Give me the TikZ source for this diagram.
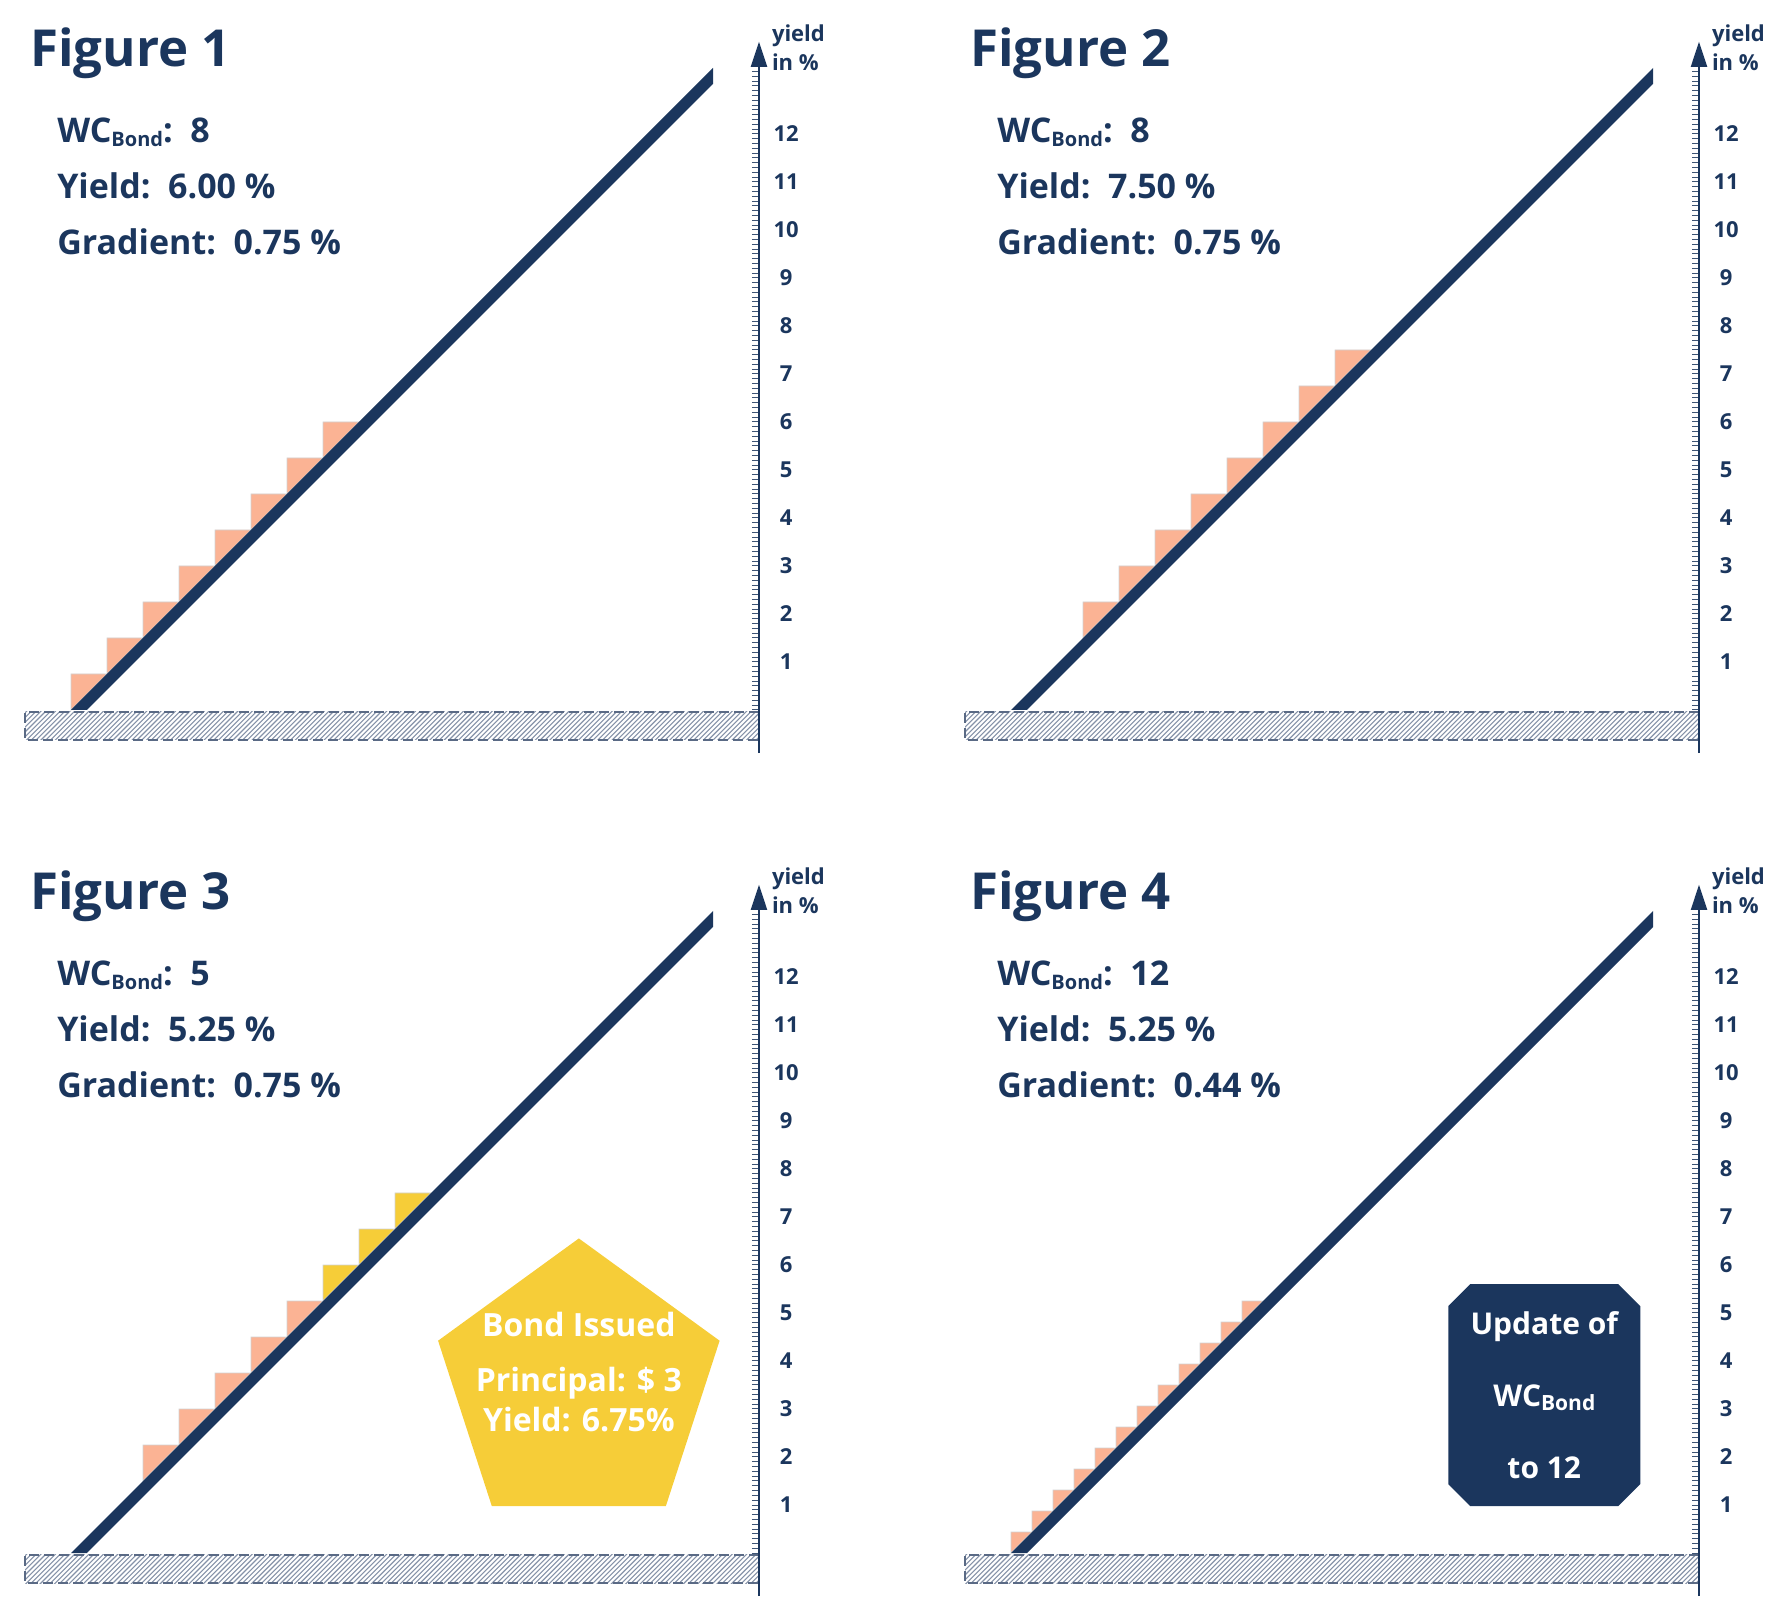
\documentclass[tikz,border=0pt]{standalone}
\usepackage{fontspec}
\setmainfont{Open Sans}
\usepackage{tikz,xcolor}
\usetikzlibrary{arrows.meta,positioning,shapes.geometric,shapes.misc}

\definecolor{navy}{HTML}{1B365D}
\definecolor{salmon}{HTML}{FBB394}
\definecolor{bondyellow}{HTML}{F6CD38}
\definecolor{groundline}{HTML}{5A6A85}
\definecolor{hatchgray}{HTML}{8592A8}

\newcommand{\wcsub}[1]{WC\raisebox{-4pt}{\fontsize{#1}{#1}\selectfont Bond}}

\tikzset{
    stepred/.style={fill=salmon, draw=black!18, line width=0.8pt},
    stepyellow/.style={fill=bondyellow, draw=black!18, line width=0.8pt},
    hatchline/.style={draw=hatchgray, line width=1.1pt},
    grounddash/.style={draw=groundline, line width=1.8pt, dash pattern=on 10pt off 5pt},
    tick/.style={draw=navy!85, line width=1pt},
    axisline/.style={draw=navy, line width=2pt, -{Triangle[width=16pt,length=25pt]}},
    titletext/.style={font=\fontsize{51}{51}\selectfont\bfseries, text=navy, inner sep=0pt, anchor=base west},
    infotext/.style={font=\fontsize{34}{34}\selectfont\bfseries, text=navy, inner sep=0pt, anchor=base west},
    ticklabel/.style={font=\fontsize{22}{22}\selectfont\bfseries, text=navy, inner sep=0pt},
    unitlabel/.style={font=\fontsize{22}{22}\selectfont\bfseries, text=navy, inner sep=0pt, anchor=base west}
}

\begin{document}
\begin{tikzpicture}[x=1pt, y=1pt,
    bondpenta/.style={regular polygon, regular polygon sides=5, minimum size=296pt, inner sep=0pt, fill=bondyellow},
    bondtext/.style={font=\fontsize{32}{40}\selectfont\bfseries, text=white, align=center, inner sep=0pt},
    updatebox/.style={chamfered rectangle, chamfered rectangle xsep=11pt, chamfered rectangle ysep=11pt,
        minimum width=192pt, minimum height=222pt, inner sep=0pt, fill=navy, text=white,
        font=\fontsize{30}{72}\selectfont\bfseries, align=center}]

    \useasboundingbox (0,0) rectangle (1787,1604);

    % steps
    \begin{scope}[shift={(71pt,894pt)}, x=48pt, y=48pt]
        \foreach \s in {0,...,7}
            \draw[stepred] (0.75*\s,0.75*\s) -- ++(0,0.75) -- ++(0.75,0) -- cycle;
    \end{scope}
    \begin{scope}[shift={(1011pt,894pt)}, x=48pt, y=48pt]
        \foreach \s in {0,...,7}
            \draw[stepred] (1.5+0.75*\s,1.5+0.75*\s) -- ++(0,0.75) -- ++(0.75,0) -- cycle;
    \end{scope}
    \begin{scope}[shift={(71pt,51pt)}, x=48pt, y=48pt]
        \foreach \s in {0,...,4}
            \draw[stepred] (1.5+0.75*\s,1.5+0.75*\s) -- ++(0,0.75) -- ++(0.75,0) -- cycle;
        \foreach \s in {0,1,2}
            \draw[stepyellow] (5.25+0.75*\s,5.25+0.75*\s) -- ++(0,0.75) -- ++(0.75,0) -- cycle;
    \end{scope}
    \begin{scope}[shift={(1011pt,51pt)}, x=48pt, y=48pt]
        \foreach \s in {0,...,11}
            \draw[stepred] (0.4375*\s,0.4375*\s) -- ++(0,0.4375) -- ++(0.4375,0) -- cycle;
    \end{scope}

    % panels
    \foreach \px/\py/\n/\wc/\yld/\grad in {71/894/1/8/6.00/0.75, 1011/894/2/8/7.50/0.75, 71/51/3/5/5.25/0.75, 1011/51/4/12/5.25/0.44}{
        \begin{scope}[shift={(\px pt,\py pt)}, x=48pt, y=48pt]
            \begin{scope}
                \clip (-0.958,-0.625) rectangle (14.333,-0.04);
                \foreach \k in {0,...,165}
                    \draw[hatchline] (-1.6+0.1*\k,-0.7) -- ++(0.8,0.8);
            \end{scope}
            \draw[grounddash] (14.333,-0.04) -- (-0.958,-0.04) -- (-0.958,-0.625) -- (14.333,-0.625);

            \foreach \t in {0,...,134}
                \draw[tick] (14.187,0.1*\t) -- (14.333,0.1*\t);
            \coordinate (axb\n) at (14.333,-0.9);
            \coordinate (axt\n) at (14.333,13.92);
            \draw[axisline] (axb\n) -- (axt\n);
            \foreach \v in {1,...,12}
                \node[ticklabel] (lab\n-\v) at (14.9,\v) {\v};
            \node[unitlabel] (unit\n-a) at (14.6,13.92) {yield};
            \node[unitlabel] (unit\n-b) at (14.6,13.33) {in \%};

            \node[titletext] (title\n) at (-0.85,13.4) {Figure \n};
            \node[infotext] (wc\n) at (-0.29,11.83) {\wcsub{20}:\ \ \wc};
            \node[infotext] (yld\n) at (-0.29,10.66) {Yield:\ \ \yld\ \%};
            \node[infotext] (grad\n) at (-0.29,9.48) {Gradient:\ \ \grad\ \%};

            \fill[navy] (0,0) -- (13.375,13.375) -- (13.375,13.042) -- (0.333,0) -- cycle;
        \end{scope}
    }

    \begin{scope}[shift={(71pt,51pt)}, x=48pt, y=48pt]
        \node[bondpenta] (bond) at (10.58,3.47) {};
        \node[bondtext] (bondtxt) at (10.58,3.77) {Bond Issued\\[15pt]Principal: \$ 3\\Yield: 6.75\%};
    \end{scope}
    \begin{scope}[shift={(1011pt,51pt)}, x=48pt, y=48pt]
        \node[updatebox] (update) at (11.11,3.29) {Update of\\\wcsub{21}\\to 12};
    \end{scope}
\end{tikzpicture}
\end{document}
